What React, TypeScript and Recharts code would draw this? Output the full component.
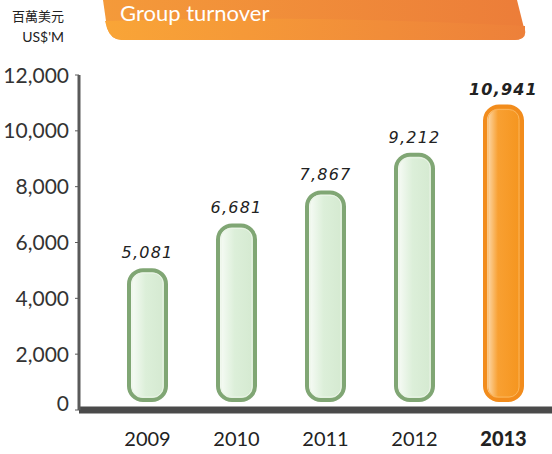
import React from "react";
import { Bar, BarChart, LabelList, XAxis, YAxis } from "recharts";

const years = ["2009", "2010", "2011", "2012", "2013"];
const turnover = [5081, 6681, 7867, 9212, 10941];
const yTicks = [0, 2000, 4000, 6000, 8000, 10000, 12000];
const highlightYear = "2013";

const data = years.map((year, i) => ({ year, turnover: turnover[i] }));

const SANS = "Lato, 'Open Sans', sans-serif";
const HAND = "'DejaVu Sans', sans-serif";

function PillBar(props: any) {
  const { x, y, width, height, payload } = props;
  const hot = payload.year === highlightYear;
  const sw = 4;
  const bottom = y + height - 8;
  const rx = 14;
  return (
    <g>
      <rect
        x={x + sw / 2}
        y={y + sw / 2}
        width={width - sw}
        height={bottom - y - sw}
        rx={rx}
        ry={rx}
        fill={hot ? "url(#orangeFill)" : "url(#greenFill)"}
        stroke={hot ? "#f28c1c" : "#80a674"}
        strokeWidth={sw}
      />
      <rect
        x={x + sw + 1}
        y={y + sw + 1}
        width={width - 2 * sw - 2}
        height={bottom - y - 2 * sw - 2}
        rx={rx - 4}
        ry={rx - 4}
        fill="none"
        stroke={hot ? "#fbb45a" : "#eaf4e6"}
        strokeWidth={1}
      />
    </g>
  );
}

function ValueLabel(props: any) {
  const { x, y, width, value, index } = props;
  const hot = years[index] === highlightYear;
  return (
    <text
      x={x + width / 2}
      y={y - 10}
      textAnchor="middle"
      fontFamily={HAND}
      fontStyle="italic"
      fontWeight={hot ? 700 : 400}
      fontSize={16}
      letterSpacing={1.2}
      fill="#222"
    >
      {value.toLocaleString("en-US")}
    </text>
  );
}

function YTick(props: any) {
  const { x, y, payload } = props;
  return (
    <text
      x={x}
      y={payload.value === 0 ? y - 7 : y}
      dy="0.36em"
      textAnchor="end"
      fontFamily={SANS}
      fontSize={21}
      fill="#333"
    >
      {payload.value.toLocaleString("en-US")}
    </text>
  );
}

function XTick(props: any) {
  const { x, y, payload } = props;
  const hot = payload.value === highlightYear;
  return (
    <text
      x={x}
      y={y}
      dy="0.71em"
      textAnchor="middle"
      fontFamily={SANS}
      fontSize={20}
      fontWeight={hot ? 900 : 400}
      fill="#222"
    >
      {payload.value}
    </text>
  );
}

function Header() {
  return (
    <svg width={552} height={60} style={{ position: "absolute", left: 0, top: 0 }}>
      <defs>
        <linearGradient id="banner" x1="0" y1="0" x2="1" y2="0">
          <stop offset="0%" stopColor="#f49a3a" />
          <stop offset="100%" stopColor="#ec7d39" />
        </linearGradient>
        <linearGradient id="bannerLow" x1="0" y1="0" x2="1" y2="0">
          <stop offset="0%" stopColor="#f9a537" />
          <stop offset="100%" stopColor="#ed803a" />
        </linearGradient>
      </defs>
      <path d="M103 0 L517 0 L524 28 Q527 40 514 40 L122 40 Q111 40 107 28 Z" fill="url(#banner)" />
      <path d="M105 21 Q300 14 525 26 L525 30 Q527 40 514 40 L122 40 Q111 40 107 28 Z" fill="url(#bannerLow)" />
      <text x={120} y={21} fontFamily={SANS} fontSize={22} fill="#fff">
        Group turnover
      </text>
      <text x={64} y={21} textAnchor="end" fontFamily="'Noto Sans CJK TC', sans-serif" fontSize={13} fill="#222">
        百萬美元
      </text>
      <text x={64} y={42} textAnchor="end" fontFamily={SANS} fontSize={14} fill="#222">
        US$'M
      </text>
    </svg>
  );
}

export default function App() {
  return (
    <div style={{ position: "fixed", left: 0, top: 0, width: 552, height: 454, background: "#fff" }}>
      <Header />
      <BarChart
        width={552}
        height={454}
        data={data}
        margin={{ top: 75, right: 0, bottom: 0, left: 0 }}
        style={{ position: "absolute", left: 0, top: 0 }}
      >
        <defs>
          <linearGradient id="greenFill" x1="0" y1="0" x2="1" y2="0">
            <stop offset="0%" stopColor="#fbfdfa" />
            <stop offset="45%" stopColor="#dcefd9" />
            <stop offset="100%" stopColor="#d4e9d0" />
          </linearGradient>
          <linearGradient id="orangeFill" x1="0" y1="0" x2="1" y2="0">
            <stop offset="0%" stopColor="#fde6c6" />
            <stop offset="35%" stopColor="#f8a032" />
            <stop offset="100%" stopColor="#f5941d" />
          </linearGradient>
        </defs>
        <XAxis
          dataKey="year"
          height={44}
          padding={{ left: 24, right: 4 }}
          axisLine={{ stroke: "#4a4a4a", strokeWidth: 7 }}
          tickLine={false}
          tickSize={0}
          tickMargin={22}
          tick={<XTick />}
        />
        <YAxis
          width={79}
          domain={[0, 12000]}
          ticks={yTicks}
          interval={0}
          axisLine={{ stroke: "#5a5a5a", strokeWidth: 3 }}
          tickLine={{ stroke: "#5a5a5a" }}
          tickSize={4}
          tickMargin={6}
          tick={<YTick />}
        />
        <Bar dataKey="turnover" barSize={41} shape={<PillBar />} isAnimationActive={false}>
          <LabelList dataKey="turnover" content={<ValueLabel />} />
        </Bar>
      </BarChart>
    </div>
  );
}
